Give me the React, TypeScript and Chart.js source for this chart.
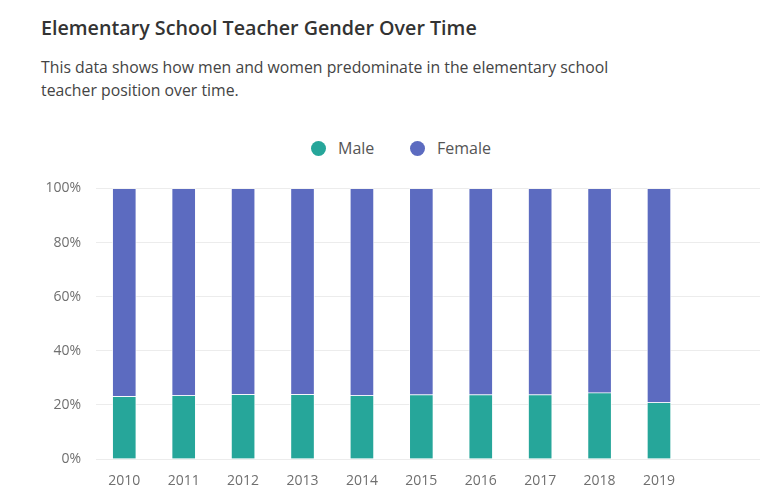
import React, { useEffect, useRef } from "react";
import { Chart, registerables } from "chart.js";

Chart.register(...registerables);

const years = [2010, 2011, 2012, 2013, 2014, 2015, 2016, 2017, 2018, 2019];
const maleShare = [23.2, 23.5, 23.9, 23.9, 23.5, 23.8, 23.8, 23.8, 24.5, 20.9];
const femaleShare = [76.8, 76.5, 76.1, 76.1, 76.5, 76.2, 76.2, 76.2, 75.5, 79.1];
const yTicks = [0, 20, 40, 60, 80, 100];

const MALE_COLOR = "#26a69a";
const FEMALE_COLOR = "#5c6bc0";
const FONT = "'Open Sans', 'Noto Sans', sans-serif";

export default function App() {
  const canvasRef = useRef<HTMLCanvasElement | null>(null);

  useEffect(() => {
    const canvas = canvasRef.current;
    if (!canvas) return;
    const chart = new Chart(canvas, {
      type: "bar",
      data: {
        datasets: [
          {
            label: "Male",
            data: years.map((y, i) => ({ x: y, y: maleShare[i] })),
            backgroundColor: MALE_COLOR,
            borderColor: "rgba(255,255,255,0.7)",
            borderWidth: 1,
            barThickness: 24,
          },
          {
            label: "Female",
            data: years.map((y, i) => ({ x: y, y: femaleShare[i] })),
            backgroundColor: FEMALE_COLOR,
            borderColor: "rgba(255,255,255,0.7)",
            borderWidth: 1,
            barThickness: 24,
          },
        ],
      },
      options: {
        animation: false,
        responsive: true,
        maintainAspectRatio: false,
        layout: { padding: { left: 0, right: 8, top: 0, bottom: 0 } },
        plugins: {
          legend: { display: false },
          tooltip: { enabled: false },
        },
        scales: {
          x: {
            type: "linear",
            offset: false,
            stacked: true,
            min: 2009.524,
            max: 2020.7,
            grid: { display: false, drawTicks: false },
            border: { display: false },
            afterBuildTicks: (axis: any) => {
              axis.ticks = years.map((y) => ({ value: y }));
            },
            afterFit: (scale: any) => {
              scale.height = 37;
            },
            ticks: {
              autoSkip: false,
              maxRotation: 0,
              padding: 14,
              color: "#6f6f6f",
              font: { family: FONT, size: 14 },
              callback: (v: any) => String(v),
            },
          },
          y: {
            stacked: true,
            min: 0,
            max: 100,
            grid: { color: "#ececec", lineWidth: 1, drawTicks: false },
            border: { display: false },
            afterBuildTicks: (axis: any) => {
              axis.ticks = yTicks.map((v) => ({ value: v }));
            },
            afterFit: (scale: any) => {
              scale.width = 88;
            },
            ticks: {
              padding: 15,
              color: "#6f6f6f",
              font: { family: FONT, size: 14 },
              callback: (v: any) => v + "%",
            },
          },
        },
      },
    });
    return () => chart.destroy();
  }, []);

  const legendItem = (color: string, text: string, left: number) => (
    <div
      style={{
        position: "absolute",
        left,
        top: 130,
        height: 20,
        display: "flex",
        alignItems: "center",
      }}
    >
      <span
        style={{
          display: "inline-block",
          width: 15,
          height: 15,
          borderRadius: "50%",
          background: color,
          marginRight: 12.5,
        }}
      />
      <span style={{ fontSize: 16, color: "#555", fontFamily: FONT }}>{text}</span>
    </div>
  );

  return (
    <div style={{ position: "relative", width: 760, height: 488, fontFamily: FONT }}>
      <div
        style={{
          position: "absolute",
          left: 33,
          top: 5.5,
          fontSize: 19.7,
          lineHeight: "27px",
          fontWeight: 600,
          color: "#333",
          whiteSpace: "nowrap",
        }}
      >
        Elementary School Teacher Gender Over Time
      </div>
      <div
        style={{
          position: "absolute",
          left: 33,
          top: 47.5,
          width: 640,
          fontSize: 15.8,
          lineHeight: "23px",
          color: "#444",
        }}
      >
        This data shows how men and women predominate in the elementary school
        <br />
        teacher position over time.
      </div>
      {legendItem(MALE_COLOR, "Male", 302.5)}
      {legendItem(FEMALE_COLOR, "Female", 401.5)}
      <div
        style={{
          position: "absolute",
          left: 0,
          top: 157,
          width: 760,
          height: 331,
        }}
      >
        <canvas ref={canvasRef} style={{ display: "block" }} />
      </div>
    </div>
  );
}
